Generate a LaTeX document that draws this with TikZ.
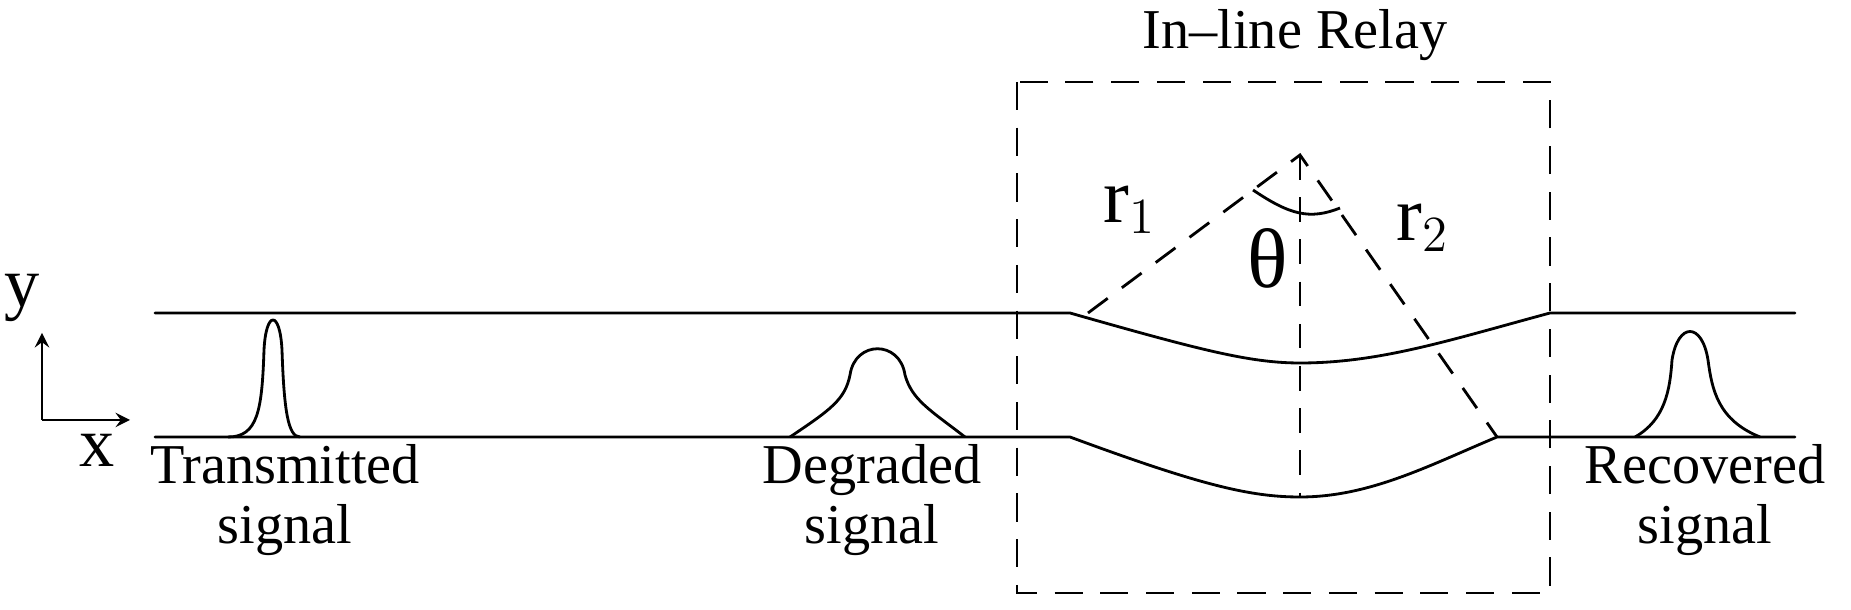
\documentclass[tikz,border=0pt]{standalone}
\usepackage{fontspec}
\setmainfont{Liberation Serif}
\usetikzlibrary{positioning}
\tikzset{
	fibre/.style={thick, line cap=round},
	relaybox/.style={thick, dash pattern=on 8pt off 5pt},
	guide/.style={thick, dash pattern=on 7pt off 5pt},
	lbl/.style={align=center, font=\fontsize{16}{17}\selectfont, inner sep=1pt}
}
\begin{document}
\begin{tikzpicture}[x=0.01cm, y=-0.01cm]
		\useasboundingbox (0,0) rectangle (1851,610);
		% fibre walls
		\draw [fibre] (155,313)--(1070,313) .. controls (1200,350) and (1250,363) .. (1300,363) .. controls (1380,363) and (1450,340) .. (1550,313)--(1795,313);
		\draw [fibre] (155,437)--(1070,437) .. controls (1200,485) and (1250,497) .. (1300,497) .. controls (1370,497) and (1430,465) .. (1497,437)--(1795,437);
		% relay
		\draw [relaybox] (1017,82) rectangle (1550,593);
		\coordinate (apex) at (1300,155);
		\draw [guide] (1088,313)--(apex)--(1497,437);
		\draw [guide] (apex)--(1300,497);
		\draw [thick] (1253,190) .. controls (1290,215) and (1310,220) .. (1340,208);
		\node [lbl] (title) at (1295,35) {In\textendash line Relay};
		\node [lbl, font=\fontsize{22}{24}\selectfont] (rone) at (1130,210) {r$_1$};
		\node [lbl, font=\fontsize{24}{26}\selectfont] (theta) at (1268,258) {θ};
		\node [lbl, font=\fontsize{22}{24}\selectfont] (rtwo) at (1423,228) {r$_2$};
		% axes
		\coordinate (o) at (42,420);
		\draw [thick, -stealth] (o)--(42,333);
		\draw [thick, -stealth] (o)--(130,420);
		\node [lbl, font=\fontsize{20}{22}\selectfont] (ylab) at (22,298) {y};
		\node [lbl, font=\fontsize{20}{22}\selectfont] (xlab) at (97,450) {x};
		% pulses
		\draw [thick] (228,437) .. controls (258,437) and (262,410) .. (264,350) .. controls (266,310) and (280,310) .. (282,350) .. controls (284,410) and (288,437) .. (300,437);
		\draw [thick] (790,437) .. controls (830,410) and (845,400) .. (850,375) .. controls (855,340) and (900,340) .. (905,375) .. controls (912,400) and (930,410) .. (965,437);
		\draw [thick] (1635,437) .. controls (1665,420) and (1670,390) .. (1672,360) .. controls (1678,322) and (1702,322) .. (1708,360) .. controls (1712,390) and (1718,420) .. (1760,437);
		% labels
		\node [lbl] (tx) at (285,500) {Transmitted\\signal};
		\node [lbl] (deg) at (872,500) {Degraded\\signal};
		\node [lbl] (rec) at (1705,500) {Recovered\\signal};
	\end{tikzpicture}
\end{document}
